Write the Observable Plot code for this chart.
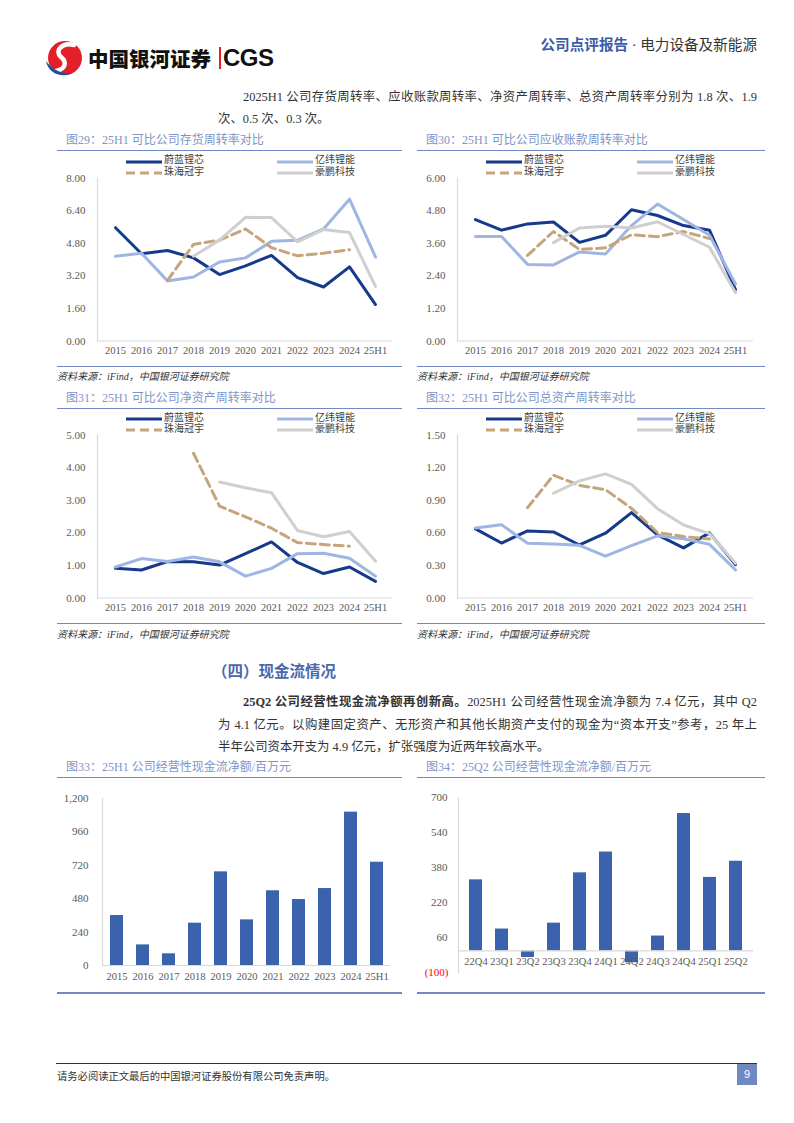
<!DOCTYPE html>
<html><head><meta charset="utf-8">
<script src="https://cdn.jsdelivr.net/npm/d3@7"></script>
<script src="https://cdn.jsdelivr.net/npm/@observablehq/plot@0.6"></script>
<style>
body{margin:0;background:#fff;}
#page{position:relative;width:794px;height:1123px;overflow:hidden;font-family:"Liberation Serif","Noto Sans CJK SC",serif;color:#333;}
.abs{position:absolute;white-space:nowrap;}
</style></head><body><div id="page"></div>
<script>
// ---------- data ----------
const years = ["2015","2016","2017","2018","2019","2020","2021","2022","2023","2024","25H1"];
const companies = ["蔚蓝锂芯","亿纬锂能","珠海冠宇","豪鹏科技"];

// 图29 存货周转率
const invWeiLan  = [5.56,4.28,4.44,4.08,3.26,3.69,4.20,3.11,2.65,3.64,1.79];
const invYiWei   = [4.16,4.31,2.95,3.14,3.88,4.08,4.89,4.94,5.50,6.96,4.12];
const invGuanYu  = [null,null,2.98,4.74,4.95,5.50,4.58,4.18,4.31,4.48,null];
const invHaoPeng = [null,null,null,4.16,4.95,6.07,6.06,4.87,5.47,5.32,2.68];
const invTicks = [0,1.6,3.2,4.8,6.4,8];

// 图30 应收账款周转率
const arWeiLan  = [4.47,4.08,4.31,4.38,3.63,3.89,4.83,4.62,4.25,4.08,1.89];
const arYiWei   = [3.85,3.85,2.82,2.80,3.28,3.20,4.25,5.04,4.47,3.89,2.10];
const arGuanYu  = [null,null,3.15,4.03,3.37,3.43,3.91,3.84,4.03,3.77,null];
const arHaoPeng = [null,null,null,3.62,4.16,4.22,4.16,4.39,3.92,3.45,1.78];
const arTicks = [0,1.2,2.4,3.6,4.8,6];

// 图31 净资产周转率
const naWeiLan  = [0.91,0.86,1.12,1.11,1.01,1.36,1.72,1.09,0.75,0.95,0.51];
const naYiWei   = [0.95,1.21,1.12,1.26,1.11,0.67,0.91,1.36,1.37,1.22,0.67];
const naGuanYu  = [null,null,null,4.44,2.82,2.49,2.14,1.70,1.64,1.59,null];
const naHaoPeng = [null,null,null,null,3.56,3.38,3.23,2.07,1.88,2.04,1.13];
const naTicks = [0,1,2,3,4,5];

// 图32 总资产周转率
const taWeiLan  = [0.636,0.506,0.617,0.608,0.488,0.596,0.786,0.581,0.461,0.599,0.307];
const taYiWei   = [0.645,0.675,0.503,0.497,0.485,0.386,0.482,0.572,0.545,0.494,0.259];
const taGuanYu  = [null,null,0.831,1.13,1.036,0.997,0.825,0.602,0.566,0.542,null];
const taHaoPeng = [null,null,null,0.964,1.078,1.142,1.045,0.822,0.672,0.593,0.319];
const taTicks = [0,0.3,0.6,0.9,1.2,1.5];

// 图33 经营性现金流净额（年度，百万元）
const cfoAnnual = [359,148,84,304,673,328,537,474,553,1102,742];
const cfoAnnualTicks = [0,240,480,720,960,1200];

// 图34 经营性现金流净额（季度，百万元）
const quarters = ["22Q4","23Q1","23Q2","23Q3","23Q4","24Q1","24Q2","24Q3","24Q4","25Q1","25Q2"];
const cfoQuarterly = [325,100,-30,127,357,452,-54,68,628,336,410];
const cfoQuarterTicks = [-100,60,220,380,540,700];

// ---------- styles ----------
const LINE_COLORS = ["#16398c","#9fb6e2","#c5a57b","#cfcfcf"];
const TITLE_C = "#7d95ca";
const RULE_C = "#7089c3";
const BAR_C = "#3b63ad";
const AXIS_C = "#d9d9d9";
const FONT = "'Liberation Serif','Noto Sans CJK SC',serif";

const page = document.getElementById("page");
function text(html, x, y, css = {}, lh = 16) {
  const d = document.createElement("div");
  d.className = "abs";
  d.innerHTML = html;
  d.style.left = x + "px";
  d.style.top = (y - lh / 2) + "px";
  d.style.lineHeight = lh + "px";
  Object.assign(d.style, css);
  page.appendChild(d);
  return d;
}
function rule(x, y, w, color = RULE_C, h = 1.4) {
  const d = document.createElement("div");
  d.className = "abs";
  Object.assign(d.style, {left: x + "px", top: (y - h / 2) + "px", width: w + "px", height: h + "px", background: color});
  page.appendChild(d);
}
function place(node, x, y) {
  const d = document.createElement("div");
  d.className = "abs";
  d.style.left = x + "px"; d.style.top = y + "px";
  d.appendChild(node);
  page.appendChild(d);
}
function legend(left, ruleTop) {
  const pos = [[69, ruleTop + 9.6], [220, ruleTop + 9.6], [69, ruleTop + 20.8], [220, ruleTop + 20.8]];
  companies.forEach((c, i) => {
    const [lx, ly] = pos[i];
    const dash = i === 2 ? 'stroke-dasharray="9,5"' : "";
    text(`<svg width="36" height="6" style="vertical-align:middle"><line x1="0" x2="36" y1="3" y2="3" stroke="${LINE_COLORS[i]}" stroke-width="3" ${dash}/></svg>`, left + lx, ly, {}, 8);
    text(c, left + lx + 38, ly, {fontSize: "10px", color: "#404040"}, 12);
  });
}

function lineChart(left, width, ruleTop, title, series, ticks, mr) {
  text(title, left + 9, ruleTop - 10.5, {color: TITLE_C, fontSize: "12px"});
  rule(left, ruleTop, width);
  legend(left, ruleTop);
  const marks = [
    Plot.frame({anchor: "left", stroke: AXIS_C, strokeWidth: 1.2}),
    Plot.ruleY([0], {stroke: AXIS_C, strokeWidth: 1.2}),
    Plot.axisY({ticks, tickSize: 0, tickPadding: 12, tickFormat: d => d.toFixed(2), fontSize: 11, label: null}),
    Plot.axisX({tickSize: 0, tickPadding: 6, label: null})
  ];
  series.forEach((vals, i) => {
    const rows = [];
    vals.forEach((v, j) => { if (v != null) rows.push({year: years[j], value: v}); });
    marks.push(Plot.line(rows, {x: "year", y: "value", stroke: LINE_COLORS[i], strokeWidth: 3,
      strokeLinejoin: "round", ...(i === 2 ? {strokeDasharray: "9,5"} : {})}));
  });
  const svg = Plot.plot({
    width, height: 192, marginTop: 6.5, marginBottom: 22.5, marginLeft: 40, marginRight: mr,
    style: {fontFamily: FONT, fontSize: "10.5px", color: "#595959", background: "none", overflow: "visible"},
    x: {type: "point", domain: years, padding: 0.5, label: null},
    y: {domain: [0, ticks[ticks.length - 1]], label: null},
    marks
  });
  place(svg, left, ruleTop + 20);
  rule(left, ruleTop + 215.5, width);
  text("资料来源：iFind，中国银河证券研究院", left, ruleTop + 226.5, {fontSize: "10px", fontStyle: "italic", color: "#333"}, 14);
}

// ---------- header ----------
text(`<svg width="40" height="38" viewBox="0 0 40 38">
  <ellipse cx="21" cy="19" rx="17" ry="17" fill="#e3202a"/>
  <path d="M30 6 C18 3 10 12 17 18 C23 23 22 30 12 32" stroke="#fff" stroke-width="4.5" fill="none" stroke-linecap="round"/>
  <path d="M2 22 C4 34 18 40 28 34 C18 35 8 31 2 22Z" fill="#1f4fa1"/>
</svg>`, 44, 58, {}, 38);
text("中国银河证券", 88, 58, {fontFamily: "'Noto Sans CJK SC'", fontWeight: "900", fontSize: "20.5px", color: "#111"}, 26);
rule(219, 58, 1.5, "#e3202a", 22);
text("CGS", 223, 58, {fontFamily: "'Liberation Sans'", fontWeight: "700", fontSize: "24px", color: "#111", letterSpacing: "-0.5px"}, 28);
const hdr = text(`<span style="color:#3d5ca8;font-weight:600">公司点评报告</span><span style="color:#333"> · 电力设备及新能源</span>`, 0, 45, {fontSize: "14.6px"}, 18);
hdr.style.left = ""; hdr.style.right = (794 - 757) + "px";

// ---------- paragraph 1 ----------
text("2025H1 公司存货周转率、应收账款周转率、净资产周转率、总资产周转率分别为 1.8 次、1.9", 243, 97, {fontSize: "12.4px", whiteSpace: "normal", width: "514px", textAlign: "justify", textAlignLast: "justify"}, 16);
text("次、0.5 次、0.3 次。", 218, 119, {fontSize: "12.4px"}, 16);

// ---------- charts row 1 & 2 ----------
lineChart(57, 345, 150.7, "图29：25H1 可比公司存货周转率对比", [invWeiLan, invYiWei, invGuanYu, invHaoPeng], invTicks, 10);
lineChart(417, 348, 150.7, "图30：25H1 可比公司应收账款周转率对比", [arWeiLan, arYiWei, arGuanYu, arHaoPeng], arTicks, 12);
lineChart(57, 345, 408.3, "图31：25H1 可比公司净资产周转率对比", [naWeiLan, naYiWei, naGuanYu, naHaoPeng], naTicks, 10);
lineChart(417, 348, 408.3, "图32：25H1 可比公司总资产周转率对比", [taWeiLan, taYiWei, taGuanYu, taHaoPeng], taTicks, 12);

// ---------- section 4 ----------
text("（四）现金流情况", 212, 670, {fontFamily: "'Noto Sans CJK SC'", fontWeight: "700", fontSize: "15.5px", color: "#4a69ad"}, 20);
text("<b>25Q2 公司经营性现金流净额再创新高。</b>2025H1 公司经营性现金流净额为 7.4 亿元，其中 Q2", 243, 702, {fontSize: "12.4px", whiteSpace: "normal", width: "514px", textAlign: "justify", textAlignLast: "justify"}, 16);
text("为 4.1 亿元。以购建固定资产、无形资产和其他长期资产支付的现金为“资本开支”参考，25 年上", 218, 725, {fontSize: "12.4px", whiteSpace: "normal", width: "539px", textAlign: "justify", textAlignLast: "justify"}, 16);
text("半年公司资本开支为 4.9 亿元，扩张强度为近两年较高水平。", 218, 747, {fontSize: "12.4px"}, 16);

// ---------- chart 33 ----------
text("图33：25H1 公司经营性现金流净额/百万元", 66, 767.3, {color: TITLE_C, fontSize: "12px"});
rule(57, 777.7, 345);
{
  const rows = years.map((y, i) => ({year: y, value: cfoAnnual[i]}));
  const svg = Plot.plot({
    width: 345, height: 199, marginTop: 10, marginBottom: 22, marginLeft: 45, marginRight: 12,
    style: {fontFamily: FONT, fontSize: "10.5px", color: "#595959", background: "none", overflow: "visible"},
    x: {type: "band", domain: years, paddingInner: 0.5, paddingOuter: 0.25, label: null},
    y: {domain: [0, 1200], label: null},
    marks: [
      Plot.frame({anchor: "left", stroke: AXIS_C, strokeWidth: 1.2}),
      Plot.barY(rows, {x: "year", y: "value", fill: BAR_C}),
      Plot.ruleY([0], {stroke: AXIS_C, strokeWidth: 1.2}),
      Plot.axisY({ticks: cfoAnnualTicks, tickSize: 0, tickPadding: 14, tickFormat: d3.format(","), fontSize: 11, label: null}),
      Plot.axisX({tickSize: 0, tickPadding: 7, label: null})
    ]
  });
  place(svg, 57, 788);
}
rule(57, 993, 345);

// ---------- chart 34 ----------
text("图34：25Q2 公司经营性现金流净额/百万元", 426, 767.3, {color: TITLE_C, fontSize: "12px"});
rule(417, 777.7, 348);
{
  const rows = quarters.map((q, i) => ({q, value: cfoQuarterly[i]}));
  const fmt = d => d < 0 ? `(${-d})` : String(d);
  const svg = Plot.plot({
    width: 348, height: 197, marginTop: 9.3, marginBottom: 12.7, marginLeft: 41, marginRight: 12,
    style: {fontFamily: FONT, fontSize: "10.5px", color: "#595959", background: "none", overflow: "visible"},
    x: {type: "band", domain: quarters, paddingInner: 0.5, paddingOuter: 0.25, label: null, axis: null},
    y: {domain: [-100, 700], label: null},
    marks: [
      Plot.frame({anchor: "left", stroke: AXIS_C, strokeWidth: 1.2}),
      Plot.barY(rows, {x: "q", y: "value", fill: BAR_C}),
      Plot.ruleY([0], {stroke: AXIS_C, strokeWidth: 1.2}),
      Plot.axisY({ticks: cfoQuarterTicks.filter(t => t >= 0), tickSize: 0, tickPadding: 11, tickFormat: fmt, fontSize: 11, label: null}),
      Plot.axisY({ticks: cfoQuarterTicks.filter(t => t < 0), tickSize: 0, tickPadding: 10, tickFormat: fmt, fontSize: 11, fill: "#ff0000", label: null}),
      Plot.text(quarters, {x: d => d, y: () => 0, dy: 11, fill: "#595959", fontSize: 10.5})
    ]
  });
  place(svg, 417, 788);
}
rule(417, 993, 348);

// ---------- footer ----------
rule(56, 1063, 701, "#333", 1);
text("请务必阅读正文最后的中国银河证券股份有限公司免责声明。", 57, 1076, {fontFamily: "'Noto Sans CJK SC'", fontSize: "10.3px", color: "#333"}, 14);
text("9", 737, 1074.5, {width: "20px", height: "21px", background: "#7089c3", color: "#fff", textAlign: "center", fontSize: "11px", fontFamily: "'Liberation Sans'"}, 21);
</script>
</body></html>
